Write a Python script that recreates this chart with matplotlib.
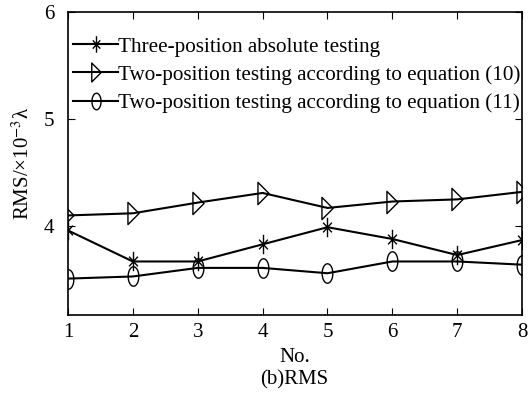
import matplotlib
matplotlib.use("Agg")
import matplotlib.pyplot as plt
import numpy as np
from matplotlib.path import Path

plt.rcParams['font.family'] = ['Liberation Serif', 'DejaVu Serif']
plt.rcParams['mathtext.fontset'] = 'stix'

x = [1, 2, 3, 4, 5, 6, 7, 8]
three_pos = [3.96, 3.67, 3.67, 3.83, 3.99, 3.88, 3.73, 3.87]
eq10 = [4.10, 4.12, 4.22, 4.31, 4.17, 4.23, 4.25, 4.32]
eq11 = [3.51, 3.53, 3.61, 3.61, 3.56, 3.67, 3.67, 3.64]
labels = ["Three-position absolute testing",
          "Two-position testing according to equation (10)",
          "Two-position testing according to equation (11)"]

# custom marker shapes
t = np.linspace(0, 2*np.pi, 41)
ell = Path(np.column_stack([0.55*np.cos(t), np.sin(t)]), closed=True)
tri = Path([(-0.5, 1.0), (0.5, 0.0), (-0.5, -1.0), (-0.5, 1.0)], closed=True)
star = Path([(0, -1), (0, 1), (-0.45, -0.5), (0.45, 0.5), (0.45, -0.5), (-0.45, 0.5)],
            [Path.MOVETO, Path.LINETO, Path.MOVETO, Path.LINETO, Path.MOVETO, Path.LINETO])

fig = plt.figure(figsize=(5.29, 3.94), dpi=100)
ax = fig.add_axes([0.1285, 0.2005, 0.8585, 0.769])

kw = dict(color='black', lw=1.5, markerfacecolor='none', markeredgecolor='black', markeredgewidth=1.0)
ax.plot(x, three_pos, marker=star, markersize=14, label=labels[0], **kw)
ax.plot(x, eq10, marker=tri, markersize=16, label=labels[1], **kw)
ax.plot(x, eq11, marker=ell, markersize=14, label=labels[2], **kw)

ax.set_xlim(1, 8)
ax.set_ylim(3.17, 6)
ax.set_xticks(x)
ax.set_yticks([4, 5, 6])
ax.tick_params(direction='in', length=5, labelsize=15, top=True, right=True,
               labeltop=False, labelright=False)
ax.tick_params(axis='y', pad=10)
ax.tick_params(axis='x', pad=6)
for s in ax.spines.values():
    s.set_linewidth(1.2)

ax.set_xlabel("No.", fontsize=15, labelpad=4)
ax.set_ylabel("RMS/×10$^{-3}$λ", fontsize=15, labelpad=7)

leg = ax.legend(loc='upper left', bbox_to_anchor=(0.012, 0.918), borderaxespad=0,
                fontsize=15.2, handlelength=2.1, handletextpad=0.0, labelspacing=0.4,
                frameon=False, borderpad=0.0, markerscale=0.85)

fig.text(0.557, 0.035, "(b)RMS", ha='center', va='center', fontsize=15)

fig.savefig("out.png", dpi=100)
